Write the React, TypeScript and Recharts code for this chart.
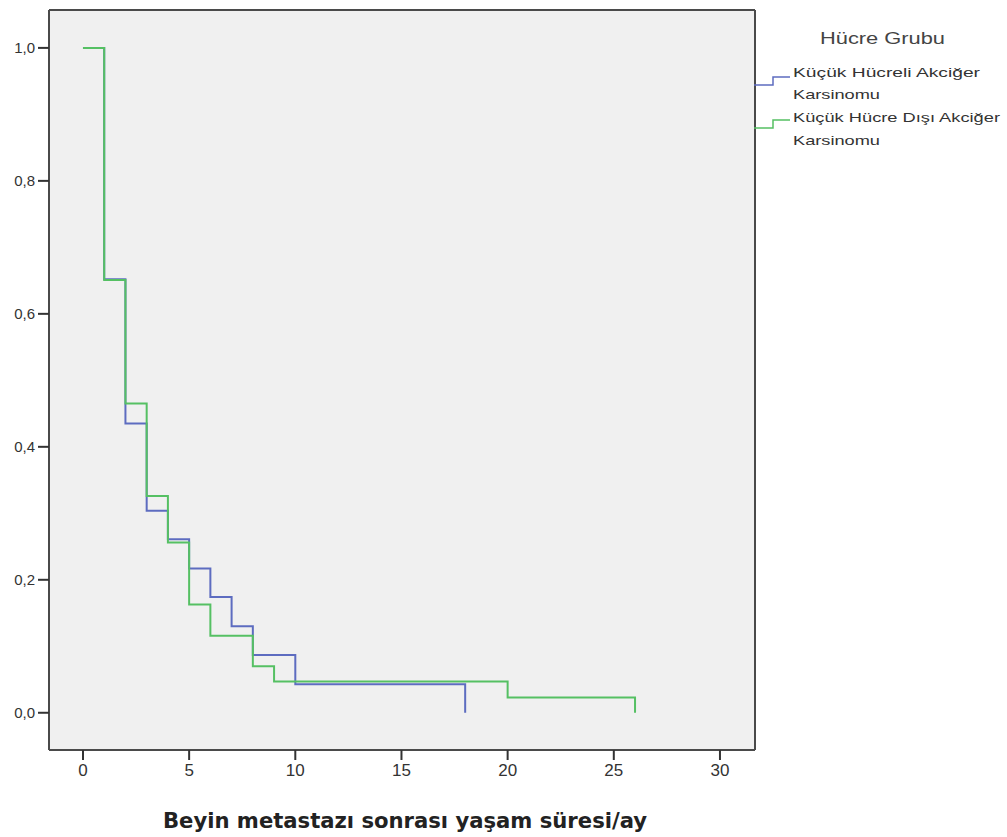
import React from 'react';
import { LineChart, Line, XAxis, YAxis, CartesianGrid } from 'recharts';

// Kaplan-Meier survival estimates
const sclcTimes = [0, 1, 2, 3, 4, 5, 6, 7, 8, 10, 18];
const sclcSurvival = [1.0, 0.652, 0.435, 0.304, 0.261, 0.217, 0.174, 0.130, 0.087, 0.043, 0.0];
const nsclcTimes = [0, 1, 2, 3, 4, 5, 6, 8, 9, 20, 26];
const nsclcSurvival = [1.0, 0.651, 0.465, 0.326, 0.256, 0.163, 0.116, 0.070, 0.047, 0.023, 0.0];

const seriesNames = ['Küçük Hücreli Akciğer Karsinomu', 'Küçük Hücre Dışı Akciğer Karsinomu'];
const legendTitle = 'Hücre Grubu';
const xAxisTitle = 'Beyin metastazı sonrası yaşam süresi/ay';
const xTicks = [0, 5, 10, 15, 20, 25, 30];
const yTicks = [0, 0.2, 0.4, 0.6, 0.8, 1.0];

const BLUE = '#5d6cc0';
const GREEN = '#55c063';
const AXIS = '#4a4a4a';

const sclcData = sclcTimes.map((t, i) => ({ t, s: sclcSurvival[i] }));
const nsclcData = nsclcTimes.map((t, i) => ({ t, s: nsclcSurvival[i] }));

const xDomain = [-1.6, 31.65];
const yDomain = [-0.056, 1.057];

export default function App() {
  return (
    <div style={{ position: 'absolute', left: 0, top: 0, width: 1007, height: 837, background: '#fff' }}>
      <LineChart
        width={1007}
        height={837}
        margin={{ top: 10, right: 252, left: 0, bottom: 0 }}
      >
        <CartesianGrid
          xAxisId="main"
          yAxisId="main"
          fill="#f0f0f0"
          horizontalValues={[yDomain[1]]}
          verticalValues={[xDomain[1]]}
          stroke={AXIS}
          strokeWidth={2}
          strokeDasharray=""
        />
        <XAxis
          xAxisId="main"
          dataKey="t"
          type="number"
          domain={xDomain}
          allowDataOverflow
          ticks={xTicks}
          height={87}
          tickSize={10}
          tickMargin={4}
          axisLine={{ stroke: AXIS, strokeWidth: 2 }}
          tickLine={{ stroke: '#333', strokeWidth: 2 }}
          tick={{ fill: '#333', fontSize: 17, fontFamily: '"Liberation Sans Narrow", "Liberation Sans", Arial' }}
        />
        <YAxis
          yAxisId="main"
          type="number"
          domain={yDomain}
          allowDataOverflow
          ticks={yTicks}
          width={49}
          tickSize={11}
          tickMargin={3}
          tickFormatter={(v: number) => v.toFixed(1).replace('.', ',')}
          axisLine={{ stroke: AXIS, strokeWidth: 2 }}
          tickLine={{ stroke: '#333', strokeWidth: 2 }}
          tick={{ fill: '#333', fontSize: 15, fontFamily: '"Liberation Sans", Arial' }}
        />
        <Line
          xAxisId="main"
          yAxisId="main"
          data={sclcData}
          dataKey="s"
          name={seriesNames[0]}
          type="stepAfter"
          stroke={BLUE}
          strokeWidth={2}
          dot={false}
          isAnimationActive={false}
        />
        <Line
          xAxisId="main"
          yAxisId="main"
          data={nsclcData}
          dataKey="s"
          name={seriesNames[1]}
          type="stepAfter"
          stroke={GREEN}
          strokeWidth={2}
          dot={false}
          isAnimationActive={false}
        />
      </LineChart>
      <svg
        width={1007}
        height={837}
        style={{ position: 'absolute', left: 0, top: 0, pointerEvents: 'none' }}
      >
        <text x={820} y={44} fontSize={17} fill="#444" fontFamily='"Liberation Sans", Arial' textLength={125} lengthAdjust="spacingAndGlyphs">
          {legendTitle}
        </text>
        <polyline points="754,85 773,85 773,77 790,77" fill="none" stroke={BLUE} strokeWidth={1.5} />
        <text x={793} y={77} fontSize={13} fill="#333" fontFamily='"Liberation Sans", Arial' textLength={187} lengthAdjust="spacingAndGlyphs">
          Küçük Hücreli Akciğer
        </text>
        <text x={793} y={99} fontSize={13} fill="#333" fontFamily='"Liberation Sans", Arial' textLength={87} lengthAdjust="spacingAndGlyphs">
          Karsinomu
        </text>
        <polyline points="754,128 773,128 773,120 790,120" fill="none" stroke={GREEN} strokeWidth={1.5} />
        <text x={793} y={122} fontSize={13} fill="#333" fontFamily='"Liberation Sans", Arial' textLength={207} lengthAdjust="spacingAndGlyphs">
          Küçük Hücre Dışı Akciğer
        </text>
        <text x={793} y={145} fontSize={13} fill="#333" fontFamily='"Liberation Sans", Arial' textLength={87} lengthAdjust="spacingAndGlyphs">
          Karsinomu
        </text>
        <text x={405} y={828} textAnchor="middle" fontSize={21} fontWeight="bold" fill="#222" fontFamily='"DejaVu Sans Condensed", "DejaVu Sans", sans-serif' textLength={484} lengthAdjust="spacingAndGlyphs">
          {xAxisTitle}
        </text>
      </svg>
    </div>
  );
}
